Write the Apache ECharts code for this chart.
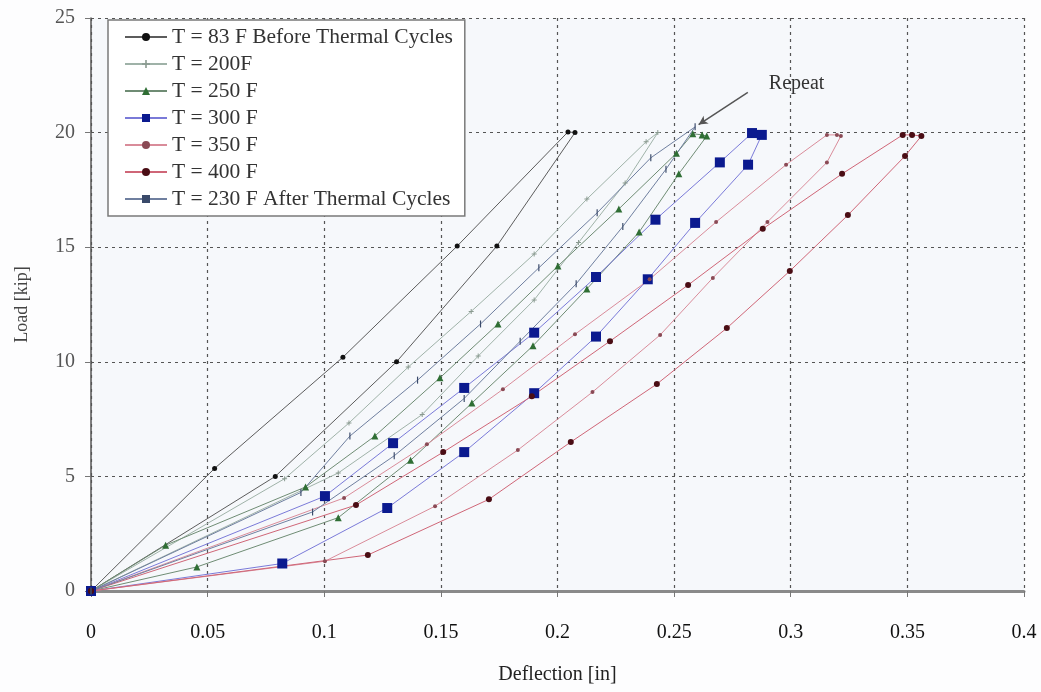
<!DOCTYPE html>
<html>
<head>
<meta charset="utf-8">
<script src="https://cdn.jsdelivr.net/npm/echarts@6/dist/echarts.min.js"></script>
<style>
html,body{margin:0;padding:0;background:#fdfdfe;}
#chart{width:1041px;height:692px;}
</style>
</head>
<body>
<div id="chart"></div>
<script>
// ---- data (deflection [in], load [kip]) ----
const seriesNames = [
  'T = 83 F Before Thermal Cycles',
  'T = 200F',
  'T = 250 F',
  'T = 300 F',
  'T = 350 F',
  'T = 400 F',
  'T = 230 F After Thermal Cycles'
];
const t83 = [[0,0],[0.053,5.35],[0.108,10.2],[0.157,15.05],[0.2045,20.03],[0.2075,20.0],[0.174,15.05],[0.131,10.0],[0.079,5.0],[0,0]];
const t200 = [[0,0],[0.083,4.9],[0.1106,7.33],[0.136,9.77],[0.163,12.2],[0.19,14.7],[0.2126,17.1],[0.238,19.6],[0.243,20.0],[0.229,17.8],[0.209,15.2],[0.19,12.7],[0.166,10.25],[0.142,7.7],[0.106,5.15],[0,0]];
const t250 = [[0,0],[0.032,2.0],[0.092,4.54],[0.1217,6.76],[0.1496,9.3],[0.1745,11.65],[0.2002,14.18],[0.2263,16.67],[0.251,19.1],[0.258,19.95],[0.262,19.9],[0.264,19.85],[0.252,18.2],[0.235,15.66],[0.2126,13.18],[0.1895,10.7],[0.1633,8.2],[0.137,5.7],[0.106,3.2],[0.0454,1.05],[0,0]];
const t300 = [[0,0],[0.082,1.2],[0.127,3.62],[0.160,6.06],[0.190,8.63],[0.2165,11.1],[0.2387,13.6],[0.259,16.06],[0.2817,18.6],[0.2876,19.9],[0.2834,19.98],[0.2696,18.7],[0.242,16.2],[0.2165,13.7],[0.190,11.27],[0.160,8.86],[0.1295,6.45],[0.1003,4.14],[0,0]];
const t350 = [[0,0],[0.1003,1.3],[0.1475,3.7],[0.183,6.15],[0.215,8.68],[0.244,11.17],[0.2666,13.66],[0.290,16.1],[0.3155,18.7],[0.3215,19.85],[0.3198,19.9],[0.3155,19.9],[0.298,18.6],[0.268,16.1],[0.2395,13.6],[0.2075,11.2],[0.1766,8.8],[0.144,6.4],[0.1085,4.06],[0,0]];
const t400 = [[0,0],[0.1187,1.57],[0.1706,4.0],[0.2057,6.5],[0.2426,9.03],[0.2726,11.47],[0.2996,13.96],[0.3245,16.4],[0.349,18.98],[0.356,19.85],[0.352,19.9],[0.348,19.9],[0.322,18.2],[0.288,15.8],[0.256,13.35],[0.2225,10.9],[0.189,8.5],[0.151,6.06],[0.1136,3.75],[0,0]];
const t230 = [[0,0],[0.09,4.3],[0.111,6.76],[0.14,9.2],[0.167,11.65],[0.192,14.1],[0.217,16.5],[0.24,18.9],[0.259,20.25],[0.2465,18.4],[0.228,15.9],[0.208,13.4],[0.184,10.9],[0.16,8.4],[0.13,5.9],[0.095,3.45],[0,0]];
// annotation "Repeat" (data coordinates)
const repeatText = 'Repeat';
const repeatLabelAt = [0.3025, 22.15];
const repeatArrowFrom = [0.2816, 21.75];
const repeatArrowTo = [0.2605, 20.35];
// axes
const xTicks = {min: 0, max: 0.4, interval: 0.05};
const yTicks = {min: 0, max: 25, interval: 5};
const xName = 'Deflection [in]';
const yName = 'Load [kip]';

const FONT = '"Liberation Serif", "DejaVu Serif", serif';
const plusPath = 'path://M4,0h2v4h4v2h-4v4h-2v-4h-4v-2h4z';
const barPath = 'path://M0,0h2v12h-2z';

function mk(name, data, lineColor, symbol, symbolSize, markColor, extra) {
  return Object.assign({
    name: name, type: 'line', data: data,
    symbol: symbol, symbolSize: symbolSize, showSymbol: true,
    symbolKeepAspect: true,
    lineStyle: {color: lineColor, width: 1},
    itemStyle: {color: markColor},
    emphasis: {disabled: true},
    z: 3
  }, extra || {});
}

const chart = echarts.init(document.getElementById('chart'), null, {renderer: 'canvas'});
chart.setOption({
  animation: false,
  backgroundColor: '#fdfdfe',
  grid: {left: 91, right: 17, top: 18, bottom: 101, show: true, backgroundColor: '#f6f8fb', borderWidth: 0},
  legend: {
    orient: 'vertical', left: 108, top: 20,
    data: seriesNames,
    backgroundColor: '#ffffff', borderColor: '#7a7a7a', borderWidth: 1.5,
    padding: [6, 12, 6, 16], itemGap: 5, itemWidth: 42, itemHeight: 10,
    textStyle: {fontFamily: FONT, fontSize: 21.5, lineHeight: 22, color: '#333'}
  },
  xAxis: {
    type: 'value', min: xTicks.min, max: xTicks.max, interval: xTicks.interval,
    name: xName, nameLocation: 'middle', nameGap: 74,
    nameTextStyle: {fontFamily: FONT, fontSize: 20, color: '#222'},
    axisLine: {show: true, lineStyle: {color: '#8a8a8a', width: 3}},
    axisTick: {show: true, inside: false, length: 6, lineStyle: {color: '#777'}},
    axisLabel: {fontFamily: FONT, fontSize: 20, color: '#111', margin: 32},
    splitLine: {show: true, lineStyle: {type: [3, 4], color: '#555', width: 1.2}}
  },
  yAxis: {
    type: 'value', min: yTicks.min, max: yTicks.max, interval: yTicks.interval,
    name: yName, nameLocation: 'middle', nameGap: 60, nameRotate: 90,
    nameTextStyle: {fontFamily: FONT, fontSize: 18, color: '#444'},
    axisLine: {show: true, lineStyle: {color: '#555', width: 1.5}},
    axisTick: {show: true, inside: false, length: 6, lineStyle: {color: '#777'}},
    axisLabel: {fontFamily: FONT, fontSize: 20, color: '#555', margin: 16},
    splitLine: {show: true, lineStyle: {type: [3, 4], color: '#555', width: 1.2}}
  },
  series: [
    mk(seriesNames[0], t83, '#5c5c5c', 'circle', 5, '#111'),
    mk(seriesNames[1], t200, '#9fb2a8', plusPath, 5, '#8a9a90'),
    mk(seriesNames[2], t250, '#6f8c74', 'triangle', 7, '#2f6e34'),
    mk(seriesNames[3], t300, '#7a7ad8', 'rect', 10, '#0b1a8f'),
    mk(seriesNames[4], t350, '#d98c9a', 'circle', 4, '#8a4a55'),
    mk(seriesNames[5], t400, '#cf6677', 'circle', 6, '#4a0d14'),
    mk(seriesNames[6], t230, '#6f7f9f', barPath, 7, '#3a4a6a', {
      markLine: {
        silent: true, symbol: ['none', 'arrow'], symbolSize: [7, 9],
        lineStyle: {color: '#555', width: 1.5, type: 'solid'},
        label: {show: false},
        data: [[{coord: repeatArrowFrom}, {coord: repeatArrowTo}]]
      },
      markPoint: {
        silent: true, symbol: 'circle', symbolSize: 1,
        itemStyle: {color: 'rgba(0,0,0,0)'},
        label: {show: true, formatter: repeatText, fontFamily: FONT, fontSize: 20, color: '#333', position: 'inside'},
        data: [{coord: repeatLabelAt}]
      }
    })
  ]
});
</script>
</body>
</html>
